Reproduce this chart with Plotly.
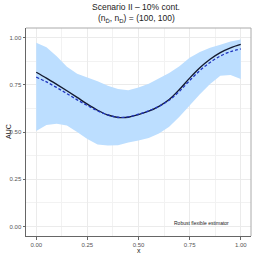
import plotly.graph_objects as go

x_grid = [0.0, 0.05, 0.1, 0.15, 0.2, 0.25, 0.3, 0.35, 0.4, 0.45, 0.5,
          0.55, 0.6, 0.65, 0.7, 0.75, 0.8, 0.85, 0.9, 0.95, 1.0]
band_upper = [0.972, 0.948, 0.900, 0.845, 0.808, 0.789, 0.768, 0.745, 0.728, 0.721, 0.735,
              0.755, 0.782, 0.812, 0.848, 0.893, 0.923, 0.945, 0.962, 0.979, 0.989]
band_lower = [0.505, 0.537, 0.544, 0.535, 0.500, 0.463, 0.434, 0.428, 0.430, 0.445, 0.455,
              0.468, 0.492, 0.528, 0.580, 0.643, 0.700, 0.754, 0.798, 0.801, 0.780]
true_auc = [0.816, 0.785, 0.752, 0.718, 0.683, 0.647, 0.615, 0.590, 0.577, 0.578, 0.592,
            0.610, 0.636, 0.672, 0.725, 0.785, 0.840, 0.885, 0.920, 0.945, 0.963]
mean_est = [0.790, 0.765, 0.735, 0.703, 0.670, 0.640, 0.612, 0.590, 0.578, 0.580, 0.594,
            0.612, 0.636, 0.668, 0.715, 0.772, 0.825, 0.868, 0.902, 0.925, 0.940]
tick_vals = [0.0, 0.25, 0.5, 0.75, 1.0]
tick_text = ["0.00", "0.25", "0.50", "0.75", "1.00"]

FONT = "Liberation Sans, Arial, sans-serif"

fig = go.Figure()
fig.add_trace(go.Scatter(x=x_grid, y=band_lower, mode="lines", line=dict(width=0),
                         hoverinfo="skip", showlegend=False))
fig.add_trace(go.Scatter(x=x_grid, y=band_upper, mode="lines", line=dict(width=0),
                         fill="tonexty", fillcolor="#BCDEFF", hoverinfo="skip", showlegend=False))
fig.add_trace(go.Scatter(x=x_grid, y=true_auc, mode="lines", line=dict(color="#141a30", width=1.4, shape="spline"),
                         showlegend=False))
fig.add_trace(go.Scatter(x=x_grid, y=mean_est, mode="lines",
                         line=dict(color="#2035c0", width=1.3, dash="3px,2px", shape="spline"),
                         showlegend=False))

axis_common = dict(
    range=[-0.05, 1.05], tickvals=tick_vals, ticktext=tick_text, automargin=False,
    showgrid=True, gridcolor="#ebebeb", gridwidth=0.6,
    minor=dict(dtick=0.125, tick0=0.125, showgrid=True, gridcolor="#f2f2f2", gridwidth=0.5, ticks=""),
    zeroline=False, showline=True, linecolor="#666666", linewidth=1,
    ticks="outside", ticklen=2.5, tickcolor="#666666", tickwidth=0.8,
    tickfont=dict(family=FONT, size=6, color="#555555"),
)

fig.update_layout(
    width=254, height=254,
    margin=dict(l=26, r=3, t=28, b=18, autoexpand=False),
    paper_bgcolor="white", plot_bgcolor="white",
    xaxis=dict(**axis_common),
    yaxis=dict(**axis_common),
    showlegend=False,
    shapes=[
        dict(type="line", xref="paper", yref="paper", x0=0, x1=1, y0=1, y1=1,
             line=dict(color="#aaaaaa", width=1)),
        dict(type="line", xref="paper", yref="paper", x0=1, x1=1, y0=0, y1=1,
             line=dict(color="#aaaaaa", width=1)),
    ],
    annotations=[
        dict(text="Scenario II – 10% cont.", xref="paper", yref="paper", x=0.49, y=1,
             yanchor="middle", xanchor="center", yshift=21.5, showarrow=False,
             font=dict(family=FONT, size=8.5, color="#222")),
        dict(text="(n<sub>D\u0304</sub>, n<sub>D</sub>) = (100, 100)", xref="paper", yref="paper", x=0.49, y=1,
             yanchor="middle", xanchor="center", yshift=10, showarrow=False,
             font=dict(family=FONT, size=8.5, color="#222")),
        dict(text="x", xref="paper", yref="paper", x=0.5, y=0, yanchor="middle", xanchor="center",
             yshift=-14, showarrow=False, font=dict(family=FONT, size=7, color="#222")),
        dict(text="AUC", xref="paper", yref="paper", x=0, y=0.5, xanchor="center", yanchor="middle",
             xshift=-18, textangle=-90, showarrow=False, font=dict(family=FONT, size=7, color="#222")),
        dict(text="Robust flexible estimator", x=0.806, y=0.02, xref="x", yref="y",
             showarrow=False, font=dict(family=FONT, size=5, color="#222")),
    ],
)

fig.write_html("out.html", config={"displayModeBar": False},
               post_script="document.body.style.margin='0';")
